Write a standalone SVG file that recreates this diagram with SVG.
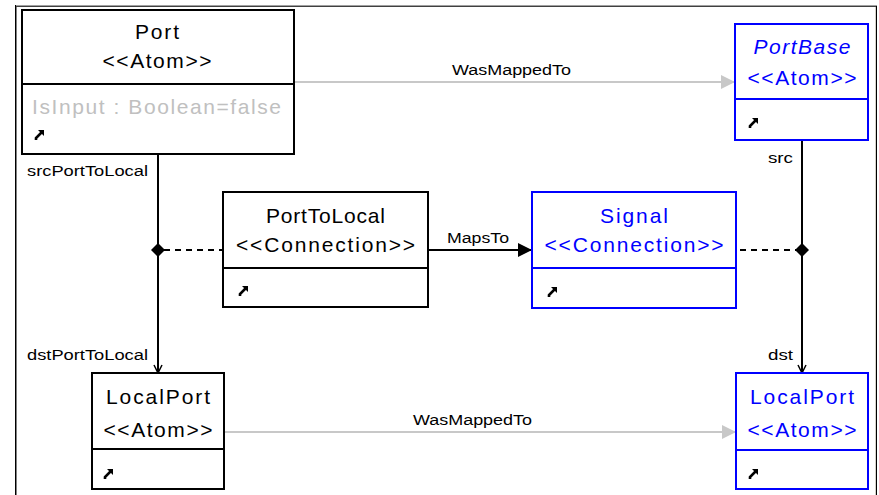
<svg xmlns="http://www.w3.org/2000/svg" xmlns:xlink="http://www.w3.org/1999/xlink" width="879" height="495" viewBox="0 0 879 495">
<style>
text{font-family:"Liberation Sans",Arial,sans-serif}
.t{font-size:21px;text-anchor:middle}
.blk{fill:#000}
.blu{fill:#0000ff}
.lbl{font-size:14px}
.box{fill:#fff;stroke:#000;stroke-width:2}
.bbox{fill:#fff;stroke:#0000ff;stroke-width:2}
.div{stroke:#000;stroke-width:2}
.bdiv{stroke:#0000ff;stroke-width:2}
.gl{stroke:#c8c8c8;stroke-width:2;fill:none}
.bl{stroke:#000;stroke-width:2;fill:none}
.dash{stroke:#000;stroke-width:2;stroke-dasharray:6,5;fill:none}
</style>
<defs>
<g id="ico">
<polygon points="4,0 10,0 10,6" fill="#000"/>
<path d="M8.5,1.5 L2,8 L2,10" stroke="#000" stroke-width="2.6" fill="none"/>
</g>
<marker id="ga" viewBox="0 0 14 14" refX="14" refY="7" markerWidth="14" markerHeight="14" markerUnits="userSpaceOnUse" orient="auto"><polygon points="0,0 14,7 0,14" fill="#c8c8c8"/></marker>
<marker id="ba" viewBox="0 0 14 14" refX="14" refY="7" markerWidth="14" markerHeight="14" markerUnits="userSpaceOnUse" orient="auto"><polygon points="0,0 14,7 0,14" fill="#000"/></marker>
<marker id="oa" viewBox="0 0 10 10" refX="9" refY="5" markerWidth="10" markerHeight="10" markerUnits="userSpaceOnUse" orient="auto"><path d="M1,1 L9,5 L1,9" fill="none" stroke="#000" stroke-width="1.5"/></marker>
</defs>
<rect x="0" y="0" width="879" height="495" fill="#fff"/>
<g id="frame">
<line x1="15" y1="5.5" x2="877" y2="5.5" stroke="#a0a0a0"/>
<line x1="16" y1="6.5" x2="876" y2="6.5" stroke="#404040"/>
<line x1="15.5" y1="5" x2="15.5" y2="495" stroke="#000"/>
<line x1="16.5" y1="7" x2="16.5" y2="495" stroke="#808080"/>
<line x1="876.5" y1="6" x2="876.5" y2="495" stroke="#000"/>
<line x1="875.5" y1="7" x2="875.5" y2="495" stroke="#d4d0c8"/>
</g>
<g id="connectors">
<line class="gl" x1="294" y1="82" x2="735" y2="82" marker-end="url(#ga)"/>
<text class="lbl" x="452" y="75" textLength="119" lengthAdjust="spacingAndGlyphs">WasMappedTo</text>
<line class="gl" x1="224" y1="432" x2="736" y2="432" marker-end="url(#ga)"/>
<text class="lbl" x="413" y="425" textLength="119" lengthAdjust="spacingAndGlyphs">WasMappedTo</text>
<line class="bl" x1="428" y1="250" x2="532" y2="250" marker-end="url(#ba)"/>
<text class="lbl" x="447" y="243" textLength="62" lengthAdjust="spacingAndGlyphs">MapsTo</text>
<line class="bl" x1="158" y1="154" x2="158" y2="373" marker-end="url(#oa)"/>
<line class="bl" x1="802" y1="140" x2="802" y2="373" marker-end="url(#oa)"/>
<line class="dash" x1="164" y1="250" x2="223" y2="250"/>
<line class="dash" x1="740" y1="250" x2="796" y2="250"/>
<polygon points="158,243 165,250 158,257 151,250" fill="#000"/>
<polygon points="802,243 809,250 802,257 795,250" fill="#000"/>
<text class="lbl" x="27" y="176" textLength="121" lengthAdjust="spacingAndGlyphs">srcPortToLocal</text>
<text class="lbl" x="27" y="360" textLength="121" lengthAdjust="spacingAndGlyphs">dstPortToLocal</text>
<text class="lbl" x="768" y="163" textLength="25" lengthAdjust="spacingAndGlyphs">src</text>
<text class="lbl" x="768" y="360" textLength="25" lengthAdjust="spacingAndGlyphs">dst</text>
</g>
<g id="Port">
<rect class="box" x="22" y="10" width="272" height="144"/>
<line class="div" x1="22" y1="84" x2="294" y2="84"/>
<text class="t blk" x="157" y="39" textLength="44" lengthAdjust="spacing">Port</text>
<text class="t blk" x="157" y="68" textLength="109" lengthAdjust="spacing">&lt;&lt;Atom&gt;&gt;</text>
<text x="32" y="114" font-size="21" fill="#c0c0c0" textLength="249" lengthAdjust="spacing">IsInput : Boolean=false</text>
<use xlink:href="#ico" x="34" y="130"/>
</g>
<g id="PortBase">
<rect class="bbox" x="735" y="24" width="133" height="116"/>
<line class="bdiv" x1="735" y1="99" x2="868" y2="99"/>
<text class="t blu" x="802" y="54" font-style="italic" textLength="97" lengthAdjust="spacing">PortBase</text>
<text class="t blu" x="802" y="85" textLength="109" lengthAdjust="spacing">&lt;&lt;Atom&gt;&gt;</text>
<use xlink:href="#ico" x="748" y="118"/>
</g>
<g id="PortToLocal">
<rect class="box" x="223" y="192" width="205" height="115"/>
<line class="div" x1="223" y1="268" x2="428" y2="268"/>
<text class="t blk" x="325.5" y="223" textLength="119" lengthAdjust="spacing">PortToLocal</text>
<text class="t blk" x="325.5" y="252" textLength="179" lengthAdjust="spacing">&lt;&lt;Connection&gt;&gt;</text>
<use xlink:href="#ico" x="238" y="286"/>
</g>
<g id="Signal">
<rect class="bbox" x="532" y="192" width="204" height="116"/>
<line class="bdiv" x1="532" y1="268" x2="736" y2="268"/>
<text class="t blu" x="634" y="223" textLength="68" lengthAdjust="spacing">Signal</text>
<text class="t blu" x="634" y="252" textLength="179" lengthAdjust="spacing">&lt;&lt;Connection&gt;&gt;</text>
<use xlink:href="#ico" x="547" y="287"/>
</g>
<g id="LocalPort1">
<rect class="box" x="92" y="373" width="132" height="116"/>
<line class="div" x1="92" y1="449" x2="224" y2="449"/>
<text class="t blk" x="158" y="404" textLength="104" lengthAdjust="spacing">LocalPort</text>
<text class="t blk" x="158" y="437" textLength="109" lengthAdjust="spacing">&lt;&lt;Atom&gt;&gt;</text>
<use xlink:href="#ico" x="103" y="469"/>
</g>
<g id="LocalPort2">
<rect class="bbox" x="736" y="373" width="132" height="116"/>
<line class="bdiv" x1="736" y1="450" x2="868" y2="450"/>
<text class="t blu" x="802" y="404" textLength="104" lengthAdjust="spacing">LocalPort</text>
<text class="t blu" x="802" y="437" textLength="109" lengthAdjust="spacing">&lt;&lt;Atom&gt;&gt;</text>
<use xlink:href="#ico" x="748" y="469"/>
</g>
</svg>
